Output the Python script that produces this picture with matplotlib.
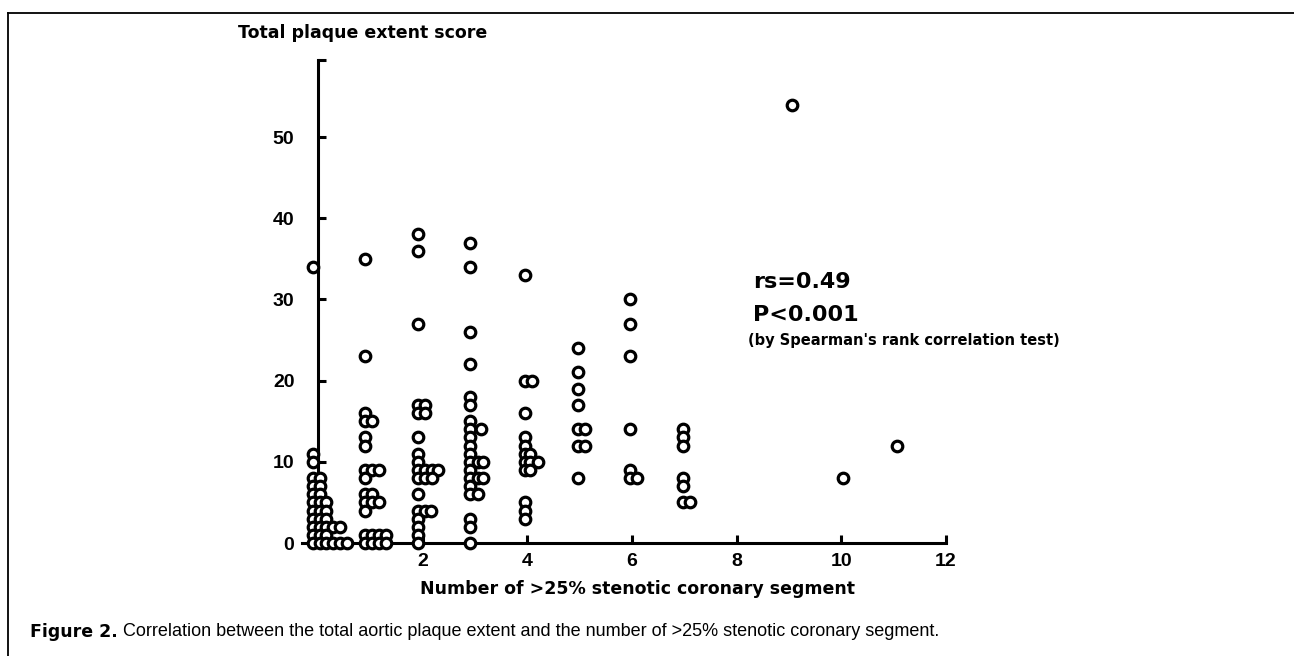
import matplotlib
matplotlib.use('Agg')
import matplotlib.pyplot as plt
from matplotlib.lines import Line2D

plt.rcParams['font.family'] = ['Liberation Sans', 'DejaVu Sans']
WIDE = ['DejaVu Sans']   # letra ancha y gruesa como la del escaneo

# puntos (x con el pequeno desplazamiento de la original)
x0 = [-0.1, -0.1, -0.1, -0.1, 0.03, -0.1, 0.03, -0.1, 0.03,
      -0.1, 0.03, 0.16, -0.1, 0.03, 0.16, -0.1, 0.03, 0.16,
      -0.1, 0.03, 0.16, 0.29, 0.42, -0.1, 0.03, 0.16,
      -0.1, 0.03, 0.16, 0.29, 0.42, 0.55]
y0 = [34, 11, 10, 8, 8, 7, 7, 6, 6,
      5, 5, 5, 4, 4, 4, 3, 3, 3,
      2, 2, 2, 2, 2, 1, 1, 1,
      0, 0, 0, 0, 0, 0]

x1 = [0.9, 0.9, 0.9, 0.9, 1.03, 0.9, 0.9, 0.9, 1.03, 1.16, 0.9,
      0.9, 1.03, 0.9, 1.03, 1.16, 0.9,
      0.9, 1.03, 1.16, 1.29, 0.9, 1.03, 1.16, 1.29]
y1 = [35, 23, 16, 15, 15, 13, 12, 9, 9, 9, 8,
      6, 6, 5, 5, 5, 4,
      1, 1, 1, 1, 0, 0, 0, 0]

x2 = [1.92, 1.92, 1.92, 1.92, 2.05, 1.92, 2.05, 1.92, 1.92, 1.92,
      1.92, 2.05, 2.18, 2.3, 1.92, 2.05, 2.18, 1.92,
      1.92, 2.05, 2.15, 1.92, 1.92, 1.92, 1.92]
y2 = [38, 36, 27, 17, 17, 16, 16, 13, 11, 10,
      9, 9, 9, 9, 8, 8, 8, 6,
      4, 4, 4, 3, 2, 1, 0]

x3 = [2.9, 2.9, 2.9, 2.9, 2.9, 2.9, 2.9, 2.9, 3.12, 2.9, 2.9, 2.9,
      2.9, 3.05, 3.15, 2.9, 2.9, 3.05, 3.15, 2.9, 2.9, 3.05,
      2.9, 2.9, 2.9]
y3 = [37, 34, 26, 22, 18, 17, 15, 14, 14, 13, 12, 11,
      10, 10, 10, 9, 8, 8, 8, 7, 6, 6,
      3, 2, 0]

x4 = [3.96, 3.96, 4.08, 3.96, 3.96, 3.96, 3.96, 4.05,
      3.96, 4.05, 4.2, 3.96, 4.05, 3.96, 3.96, 3.96]
y4 = [33, 20, 20, 16, 13, 12, 11, 11,
      10, 10, 10, 9, 9, 5, 4, 3]

x5 = [4.97, 4.97, 4.97, 4.97, 4.97, 5.1, 4.97, 5.1, 4.97]
y5 = [24, 21, 19, 17, 14, 14, 12, 12, 8]

x6 = [5.97, 5.97, 5.97, 5.97, 5.97, 5.97, 6.1]
y6 = [30, 27, 23, 14, 9, 8, 8]

x7 = [6.98, 6.98, 6.98, 6.98, 6.98, 6.98, 7.1]
y7 = [14, 13, 12, 8, 7, 5, 5]

x_far = [9.06, 10.04, 11.07]
y_far = [54, 8, 12]

xticks = [2, 4, 6, 8, 10, 12]
yticks = [0, 10, 20, 30, 40, 50]

xs = x0 + x1 + x2 + x3 + x4 + x5 + x6 + x7 + x_far
ys = y0 + y1 + y2 + y3 + y4 + y5 + y6 + y7 + y_far

W, H = 1294, 656
fig = plt.figure(figsize=(W / 100, H / 100), dpi=100)

# ejes: x=0 en 318 px, 52.33 px por unidad; y=0 en 543 px, 8.12 px por unidad
xlo, xhi = -0.4, 12.2
ylo, yhi = -1.0, 60.0
left = 318 - 0.4 * 52.33
width = (xhi - xlo) * 52.33
bottom_px = 543 + 1.0 * 8.12
height = (yhi - ylo) * 8.12
ax = fig.add_axes([left / W, (H - bottom_px) / H, width / W, height / H])
ax.patch.set_alpha(0)

ax.plot(xs, ys, linestyle='none', marker='o', markersize=7.6,
        markerfacecolor='white', markeredgecolor='black',
        markeredgewidth=2.3, clip_on=False, zorder=3)

ax.set_xlim(xlo, xhi)
ax.set_ylim(ylo, yhi)
for s in ['top', 'right']:
    ax.spines[s].set_visible(False)
ax.spines['left'].set_position(('data', 0))
ax.spines['bottom'].set_position(('data', 0))
ax.spines['left'].set_bounds(0, 59.5)
ax.spines['bottom'].set_bounds(-0.3, 12)
for s in ['left', 'bottom']:
    ax.spines[s].set_linewidth(2.2)

ax.set_xticks(xticks)
ax.set_xticklabels([str(t) for t in xticks], fontweight='bold', fontsize=14)
ax.set_yticks(yticks + [59.5])
ax.set_yticklabels([str(t) for t in yticks] + [''], fontweight='bold',
                   fontsize=14)
ax.tick_params(axis='both', direction='in', length=6, width=2.2)
ax.tick_params(axis='x', pad=7)
ax.tick_params(axis='y', pad=17)

fig.text(238 / W, 1 - 33 / H, "Total plaque extent score", fontsize=12.5,
         fontweight='bold', family=WIDE, ha='left', va='center')
fig.text(420 / W, 1 - 589 / H, "Number of >25% stenotic coronary segment",
         fontsize=12.5, fontweight='bold', family=WIDE, ha='left',
         va='center')

fig.text(753 / W, 1 - 282 / H, "rs=0.49", fontsize=16, fontweight='bold',
         family=WIDE, ha='left', va='center')
fig.text(753 / W, 1 - 315 / H, "P<0.001", fontsize=16, fontweight='bold',
         family=WIDE, ha='left', va='center')
fig.text(748 / W, 1 - 340 / H, "(by Spearman's rank correlation test)",
         fontsize=10.5, fontweight='bold', family=WIDE, ha='left',
         va='center')

t1 = fig.text(30 / W, 1 - 632 / H, "Figure 2.", fontsize=12.5,
              fontweight='bold', family=WIDE, ha='left', va='center')
fig.add_artist(plt.Annotation(
    " Correlation between the total aortic plaque extent and the number of "
    ">25% stenotic coronary segment.", xy=(1, 0.5), xycoords=t1,
    fontsize=13, ha='left', va='center'))

# marco de la figura (solo arriba e izquierda visibles)
fig.add_artist(Line2D([8 / W, 1.0], [1 - 13 / H, 1 - 13 / H],
                      transform=fig.transFigure, color='black', lw=1.3))
fig.add_artist(Line2D([8 / W, 8 / W], [1 - 13 / H, 0.0],
                      transform=fig.transFigure, color='black', lw=1.3))

fig.savefig('out.png', dpi=100)
